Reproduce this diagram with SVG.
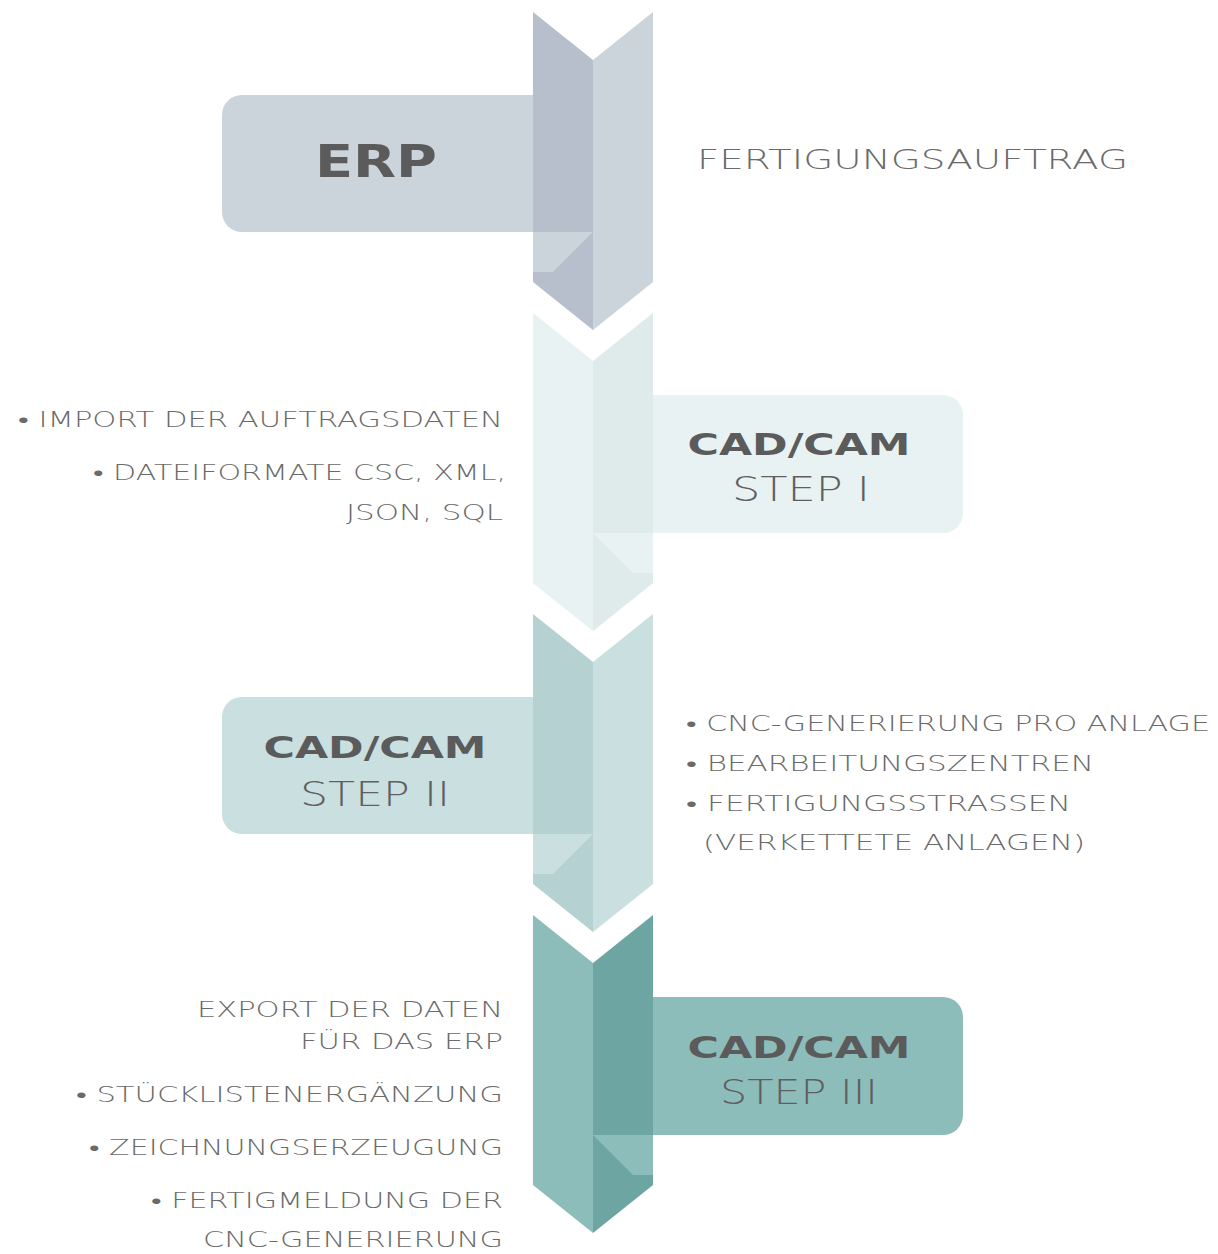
<svg xmlns="http://www.w3.org/2000/svg" width="1218" height="1254" viewBox="0 0 1218 1254">
<style>
.t{font-family:"DejaVu Sans","Liberation Sans",sans-serif;fill:#6a6a6a;font-weight:200;font-size:21px}
.big{font-family:"DejaVu Sans","Liberation Sans",sans-serif;fill:#5b5b5b;font-weight:bold}
.step{font-family:"DejaVu Sans","Liberation Sans",sans-serif;fill:#5f5f5f;font-weight:200;font-size:34px}
.e{text-anchor:end}
.m{text-anchor:middle}
</style>
<rect width="1218" height="1254" fill="#ffffff"/>
<g id="erp">
<rect x="222" y="95" width="340" height="137" rx="20" fill="#cbd3db"/>
<polygon points="533,12 593,60 593,330 533,282" fill="#b8bfcc"/>
<polygon points="593,60 653,12 653,282 593,330" fill="#cbd3db"/>
<polygon points="533,232 593,232 553,272 533,272" fill="#cbd3db"/>
<text class="big m" x="376" y="177" font-size="45" textLength="122" lengthAdjust="spacingAndGlyphs">ERP</text>
<text class="t" x="697" y="169" font-size="27" style="font-size:27px" textLength="431" lengthAdjust="spacingAndGlyphs">FERTIGUNGSAUFTRAG</text>
</g>
<g id="step1">
<rect x="625" y="395" width="338" height="138" rx="20" fill="#e8f2f2"/>
<polygon points="533,313 593,361 593,631 533,583" fill="#e8f2f2"/>
<polygon points="593,361 653,313 653,583 593,631" fill="#deebea"/>
<polygon points="593,533 653,533 653,573 633,573" fill="#e8f2f2"/>
<text class="big m" x="799" y="455" font-size="31" textLength="223" lengthAdjust="spacingAndGlyphs">CAD/CAM</text>
<text class="step m" x="801" y="501" textLength="138" lengthAdjust="spacingAndGlyphs">STEP I</text>
<text class="t e" x="503" y="427" textLength="485" lengthAdjust="spacingAndGlyphs">• IMPORT DER AUFTRAGSDATEN</text>
<text class="t e" x="506" y="480" textLength="413" lengthAdjust="spacingAndGlyphs">• DATEIFORMATE CSC, XML,</text>
<text class="t e" x="503" y="520" textLength="157" lengthAdjust="spacingAndGlyphs">JSON, SQL</text>
</g>
<g id="step2">
<rect x="222" y="697" width="340" height="137" rx="20" fill="#c9dfe0"/>
<polygon points="533,614 593,662 593,932 533,884" fill="#b6d1d2"/>
<polygon points="593,662 653,614 653,884 593,932" fill="#c9dfe0"/>
<polygon points="533,834 593,834 553,874 533,874" fill="#c9dfe0"/>
<text class="big m" x="375" y="758" font-size="31" textLength="223" lengthAdjust="spacingAndGlyphs">CAD/CAM</text>
<text class="step m" x="375" y="806" textLength="150" lengthAdjust="spacingAndGlyphs">STEP II</text>
<text class="t" x="686" y="731" textLength="524" lengthAdjust="spacingAndGlyphs">• CNC-GENERIERUNG PRO ANLAGE</text>
<text class="t" x="686" y="771" textLength="408" lengthAdjust="spacingAndGlyphs">• BEARBEITUNGSZENTREN</text>
<text class="t" x="686" y="811" textLength="385" lengthAdjust="spacingAndGlyphs">• FERTIGUNGSSTRASSEN</text>
<text class="t" x="703" y="850" textLength="382" lengthAdjust="spacingAndGlyphs">(VERKETTETE ANLAGEN)</text>
</g>
<g id="step3">
<rect x="625" y="997" width="338" height="138" rx="20" fill="#8dbdba"/>
<polygon points="533,915 593,963 593,1233 533,1185" fill="#8dbdba"/>
<polygon points="593,963 653,915 653,1185 593,1233" fill="#6ca5a1"/>
<polygon points="593,1135 653,1135 653,1175 633,1175" fill="#8dbdba"/>
<text class="big m" x="799" y="1058" font-size="31" textLength="223" lengthAdjust="spacingAndGlyphs">CAD/CAM</text>
<text class="step m" x="799" y="1104" textLength="158" lengthAdjust="spacingAndGlyphs">STEP III</text>
<text class="t e" x="503" y="1017" textLength="306" lengthAdjust="spacingAndGlyphs">EXPORT DER DATEN</text>
<text class="t e" x="503" y="1049" textLength="203" lengthAdjust="spacingAndGlyphs">FÜR DAS ERP</text>
<text class="t e" x="503" y="1102" textLength="427" lengthAdjust="spacingAndGlyphs">• STÜCKLISTENERGÄNZUNG</text>
<text class="t e" x="503" y="1155" textLength="414" lengthAdjust="spacingAndGlyphs">• ZEICHNUNGSERZEUGUNG</text>
<text class="t e" x="503" y="1208" textLength="352" lengthAdjust="spacingAndGlyphs">• FERTIGMELDUNG DER</text>
<text class="t e" x="503" y="1247" textLength="300" lengthAdjust="spacingAndGlyphs">CNC-GENERIERUNG</text>
</g>
</svg>
